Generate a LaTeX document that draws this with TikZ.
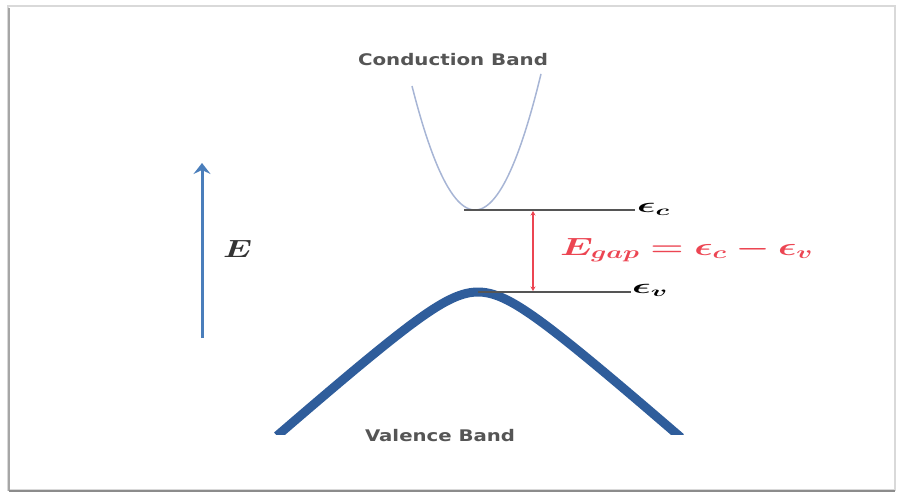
\documentclass[tikz,border=0pt]{standalone}
\usepackage{amsmath,bm}
\usepackage{fontspec}
\newfontfamily\labelfont{DejaVu Sans}
\usetikzlibrary{arrows.meta}
\definecolor{valblue}{HTML}{2F5D9B}
\definecolor{conblue}{HTML}{A7B5D5}
\definecolor{arrblue}{HTML}{4A7EBB}
\definecolor{gapred}{HTML}{EC4552}
\definecolor{levelgray}{HTML}{555555}
\definecolor{textgray}{HTML}{555555}
\tikzset{
  bandlabel/.style={inner sep=0pt, text=textgray, font=\labelfont\bfseries},
  level/.style={draw=levelgray, line width=1.2pt},
  mathlabel/.style={inner sep=0pt, anchor=base west},
}
\begin{document}
\begin{tikzpicture}[x=1pt,y=-1pt]
\useasboundingbox (0,0) rectangle (901,495);
% frame
\draw[black!15, line width=1.2pt] (8,6) rectangle (895,490);
\draw[black!35, line width=2pt] (9,8) -- (9,491);
\draw[black!45, line width=2.5pt] (9,491) -- (895,491);
% conduction band
\draw[conblue, line width=1.5pt] plot[domain=412:541, samples=80, smooth] (\x, {210-132*((\x-475)/65)^2});
% valence band
\begin{scope}
\clip (0,0) rectangle (901,434);
\draw[valblue, line width=9pt] plot[domain=277:681, samples=150, smooth] (\x, {292+37*(sqrt(1+((\x-478)/42)^2)-1)});
\end{scope}
% levels
\coordinate (ecl) at (464,210);
\coordinate (ecr) at (635,210);
\coordinate (evl) at (478,292);
\coordinate (evr) at (631,292);
\draw[level] (ecl) -- (ecr);
\draw[level] (evl) -- (evr);
\node[mathlabel] (ec) at (637,212) {\resizebox{33pt}{\height}{\fontsize{21}{21}\selectfont$\bm{\epsilon_c}$}};
\node[mathlabel] (ev) at (632,293) {\resizebox{36pt}{\height}{\fontsize{21}{21}\selectfont$\bm{\epsilon_v}$}};
% gap arrow
\coordinate (gtop) at (533,211);
\coordinate (gbot) at (533,291);
\draw[gapred, line width=1.1pt, {Stealth[length=4.5pt,width=5pt]}-{Stealth[length=4.5pt,width=5pt]}] (gtop) -- (gbot);
\node[mathlabel, text=gapred] (gap) at (560,255) {\resizebox{253pt}{\height}{\fontsize{23}{23}\selectfont$\bm{E_{gap}=\epsilon_c-\epsilon_v}$}};
% energy axis
\coordinate (eaxb) at (202,338);
\coordinate (eaxt) at (202,163);
\draw[arrblue, line width=3pt, -{Stealth[length=11pt,width=17pt,inset=4pt]}] (eaxb) -- (eaxt);
\node[mathlabel, text=black!80] (E) at (223,257) {\resizebox{29pt}{\height}{\fontsize{28}{28}\selectfont$\bm{E}$}};
% band labels
\node[bandlabel] (cb) at (453,60) {\resizebox{190pt}{\height}{\fontsize{16}{16}\selectfont Conduction Band}};
\node[bandlabel] (vb) at (440,436) {\resizebox{150pt}{\height}{\fontsize{16}{16}\selectfont Valence Band}};
\end{tikzpicture}
\end{document}
